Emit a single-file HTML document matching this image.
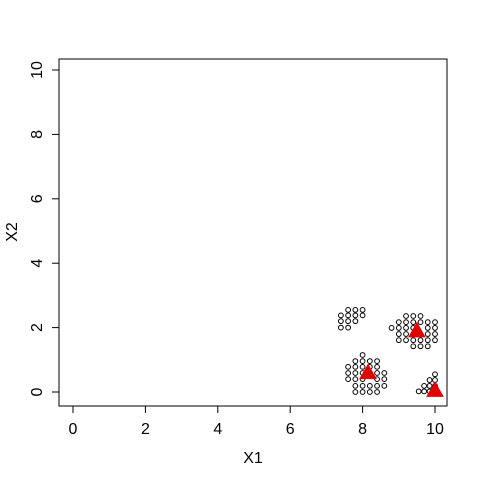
<!DOCTYPE html>
<html><head><meta charset="utf-8"><style>
body{margin:0;background:#fff}
svg text{font-family:"Liberation Sans",Arial,sans-serif;font-size:16px;fill:#000}
</style></head><body>
<svg width="480" height="480" viewBox="0 0 480 480">
<rect x="59" y="59" width="388" height="347" fill="none" stroke="#000" stroke-width="1"/>
<g id="axes"></g>
<g id="pts"></g>
<g id="cent"></g>
<text x="253" y="463" text-anchor="middle">X1</text>
<text transform="translate(17,232) rotate(-90)" text-anchor="middle">X2</text>
</svg>
<script>
const xTicks=[0,2,4,6,8,10];
const yTicks=[0,2,4,6,8,10];
const ptX=[7.6,7.8,8.0, 7.4,7.6,7.8,8.0, 7.4,7.6,7.8, 7.4,7.6,
 9.2,9.4,9.6, 9.0,9.2,9.4,9.6,9.8,10.0, 8.8,9.0,9.2,9.4,9.8,10.0, 9.0,9.2,9.8,10.0, 9.0,9.2,9.4,9.6,9.8,10.0, 9.4,9.6,9.8,
 8.0, 7.8,8.0,8.2,8.4, 7.6,7.8,8.0,8.2,8.4, 7.6,7.8,8.0,8.4,8.6, 7.6,7.8,8.0,8.4,8.6, 7.8,8.0,8.2,8.4,8.6, 7.8,8.0,8.2,8.4,
 10.0, 9.85,10.0, 9.7,9.85,10.0, 9.55,9.7,9.85,10.0];
const ptY=[2.55,2.55,2.55, 2.38,2.38,2.38,2.38, 2.2,2.2,2.2, 2.0,2.0,
 2.36,2.36,2.36, 2.17,2.17,2.17,2.17,2.17,2.17, 1.99,1.99,1.99,1.99,1.99,1.99, 1.8,1.8,1.8,1.8, 1.61,1.61,1.61,1.61,1.61,1.61, 1.42,1.42,1.42,
 1.15, 0.96,0.96,0.96,0.96, 0.78,0.78,0.78,0.78,0.78, 0.59,0.59,0.59,0.59,0.59, 0.4,0.4,0.4,0.4,0.4, 0.19,0.19,0.19,0.19,0.19, 0.0,0.0,0.0,0.0,
 0.55, 0.37,0.37, 0.19,0.19,0.19, 0.02,0.02,0.02,0.02];
const cenX=[8.15,9.5,10.0];
const cenY=[0.6,1.9,0.05];
const sx=v=>73+36.2*v, sy=v=>392-32.2*v;
const NS='http://www.w3.org/2000/svg';
const ax=document.getElementById('axes');
function mk(t,a,p){const e=document.createElementNS(NS,t);for(const k in a)e.setAttribute(k,a[k]);p.appendChild(e);return e;}
xTicks.forEach(v=>{
 const l=mk('line',{x1:sx(v),x2:sx(v),y1:406,y2:413,stroke:'#000'},ax);
 
 
 const t=mk('text',{x:sx(v),y:434,'text-anchor':'middle'},ax);t.textContent=v;
 
 
});
yTicks.forEach(v=>{
 const l=mk('line',{x1:52,x2:59,y1:sy(v),y2:sy(v),stroke:'#000'},ax);
 
 
 const t=mk('text',{transform:`translate(42,${sy(v)}) rotate(-90)`,'text-anchor':'middle'},ax);t.textContent=v;
 
 
});
const pg=document.getElementById('pts');
ptX.forEach((x,i)=>{
 const c=mk('circle',{cx:sx(x),cy:sy(ptY[i]),r:2.4,fill:'none',stroke:'#000','stroke-width':1},pg);
 
 
});
const cg=document.getElementById('cent');
cenX.forEach((x,i)=>{
 const X=sx(x),Y=sy(cenY[i]);
 const p=mk('polygon',{points:`${X},${Y-8} ${X-8},${Y+6} ${X+8},${Y+6}`,fill:'#e00000',stroke:'#e00000'},cg);
 
 
});
</script>
</body></html>
